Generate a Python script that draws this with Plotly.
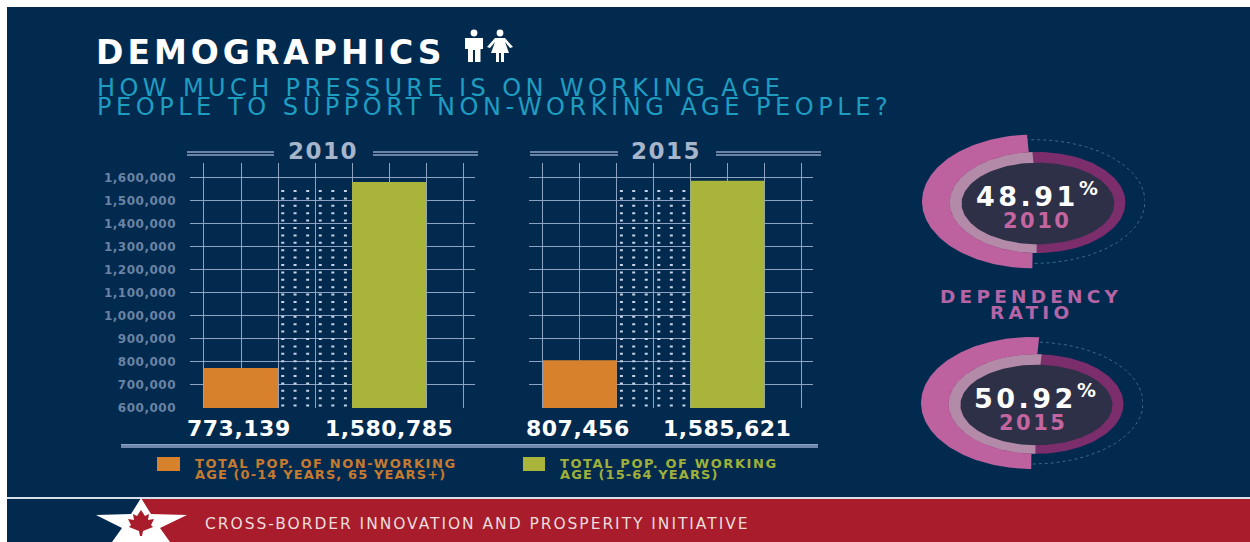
import numpy as np
import plotly.graph_objects as go

W, H = 1250, 542

# Population figures per census year
years = ["2010", "2015"]
age_groups = ["Non-working age", "Working age"]
non_working_pop = [773139, 807456]
working_pop = [1580785, 1585621]
y_ticks = [600000, 700000, 800000, 900000, 1000000, 1100000,
           1200000, 1300000, 1400000, 1500000, 1600000]
dependency_ratio = [48.91, 50.92]

# Colours
NAVY = "#022a4f"
GRID = "#8ea2c2"
TICK = "#6b83a3"
HEAD = "#a7b5cb"
ORANGE = "#d8812c"
GREEN = "#a9b53a"
PINK = "#bd619f"
PINK_LIGHT = "#b48aa9"
PLUM = "#7b2d6c"
DISC = "#2e3048"
CYAN = "#1f9dc1"
RED = "#a81c2b"
SANS = "DejaVu Sans"


def fx(px):
    return px / W


def fy(px):
    return 1 - px / H


def spaced(text, gap):
    """Wrap text in a span that opens up its tracking."""
    return f'<span style="letter-spacing:{gap}px">{text}</span>'


def path(points):
    """Closed SVG path in page fractions from pixel-space vertices."""
    cmds = [f"{'M' if i == 0 else 'L'}{fx(x):.5f},{fy(y):.5f}" for i, (x, y) in enumerate(points)]
    return " ".join(cmds) + " Z"


def rect(x0, y0, x1, y1, color):
    return dict(type="rect", xref="paper", yref="paper", x0=fx(x0), x1=fx(x1),
                y0=fy(y1), y1=fy(y0), fillcolor=color, line_width=0, layer="below")


def rule(x0, x1, y, color=GRID, width=1.4):
    return dict(type="line", xref="paper", yref="paper", x0=fx(x0), x1=fx(x1),
                y0=fy(y), y1=fy(y), line=dict(color=color, width=width))


def blob(points, color):
    return dict(type="path", xref="paper", yref="paper", path=path(points),
                fillcolor=color, line_width=0, layer="above")


def disc(cx, cy, rx, ry, color):
    return dict(type="circle", xref="paper", yref="paper", x0=fx(cx - rx), x1=fx(cx + rx),
                y0=fy(cy + ry), y1=fy(cy - ry), fillcolor=color, line_width=0, layer="above")


def label(x, y, text, size, color, gap=0, bold=True, anchor="center"):
    return dict(xref="paper", yref="paper", x=fx(x), y=fy(y), text=spaced(text, gap), showarrow=False,
                xanchor=anchor, yanchor="middle", align="left",
                font=dict(family=SANS, size=size, color=color, weight=700 if bold else 400))


def arc(share, start, rx=1.0, ry=1.0, cx=0.0, cy=0.0):
    """Arc running clockwise on screen from the bottom of an ellipse."""
    theta = np.radians(np.linspace(-90 + start, -90 + start - 360 * share, 160))
    return cx + rx * np.cos(theta), cy + ry * np.sin(theta)


def sector_trace(share, start, color, axes, rx=1.0, ry=1.0, cx=0.0, cy=0.0, closed=True):
    x, y = arc(share, start, rx, ry, cx, cy)
    if closed:
        x, y = np.r_[cx, x, cx], np.r_[cy, y, cy]
    return go.Scatter(x=x, y=y, mode="lines", fill="toself", fillcolor=color,
                      line=dict(width=0), hoverinfo="skip", showlegend=False,
                      xaxis=axes[0], yaxis=axes[1])


fig = go.Figure()
shapes = [rect(7, 7, W, H, NAVY), rect(141, 499, W, H, RED), rect(7, 497, W, 499, "#d7dfe8")]
annotations = []

# Bar panels: slot 0 and slot 2 hold bars, slot 1 is the stippled gap
panels = [(190, 475, "x", "y"), (529, 813, "x2", "y2")]
y_top = 1662900
for i, (left, right, xa, ya) in enumerate(panels):
    fig.add_trace(go.Bar(x=[0, 2], y=[non_working_pop[i], working_pop[i]], width=1,
                         marker=dict(color=[ORANGE, GREEN], line_width=0),
                         customdata=age_groups, hoverinfo="skip", showlegend=False,
                         xaxis=xa, yaxis=ya))
    axis_x = dict(domain=[fx(left), fx(right)], range=[-0.689, 3.16], tick0=-0.5, dtick=0.5,
                  showgrid=True, gridcolor=GRID, gridwidth=1.3, zeroline=False, automargin=False,
                  showticklabels=False, ticks="", fixedrange=True)
    axis_y = dict(domain=[fy(408), fy(163)], range=[600000, y_top], tickmode="array",
                  tickvals=y_ticks, ticktext=[spaced(f"{t:,}", 0.5) for t in y_ticks],
                  showgrid=True, gridcolor=GRID, gridwidth=1.3, zeroline=False, ticks="", automargin=False,
                  showticklabels=i == 0, ticklabelstandoff=13,
                  tickfont=dict(family=SANS, size=12, color=TICK, weight=700), fixedrange=True)
    suffix = "" if i == 0 else "2"
    fig.update_layout({f"xaxis{suffix}": axis_x, f"yaxis{suffix}": axis_y})

    # Stipple columns filling the gap between the bars
    for col in [0.5635, 0.73, 0.90, 1.07, 1.24, 1.41]:
        shapes.append(dict(type="line", xref=xa, yref=ya, x0=col, x1=col, y0=606000, y1=1570000,
                           line=dict(color="#c6d3e6", width=3, dash="2px,5.4px"), layer="above"))

    # Values printed under the bars
    for slot, value in [(0, non_working_pop[i]), (2, working_pop[i])]:
        annotations.append(dict(xref=xa, yref=ya, x=slot - 0.03 if slot == 0 else slot, y=600000,
                                yanchor="top", yshift=-6, text=spaced(f"{value:,}", 0.5), showarrow=False,
                                font=dict(family=SANS, size=22, color="white", weight=700)))

# Panel headers with double rules either side of the year
for year, cx, a0, a1, b0, b1 in [(years[0], 323, 187, 274, 373, 478), (years[1], 666, 530, 618, 716, 821)]:
    annotations.append(label(cx, 151, year, 23, HEAD, gap=1.5))
    for x0, x1 in [(a0, a1), (b0, b1)]:
        shapes += [rule(x0, x1, 152), rule(x0, x1, 155)]

# Rule above the legend
shapes += [rule(121, 818, 446, "#6f86ad", 4), rule(121, 818, 444.5, "#8ea2c2", 1)]

# Legend
shapes += [rect(157, 457, 180, 471, ORANGE), rect(523, 457, 545, 471, GREEN)]
annotations += [
    label(193, 463, "TOTAL POP. OF NON-WORKING", 13, "#c67a2f", gap=1.6, anchor="left"),
    label(193, 474, "AGE (0-14 YEARS, 65 YEARS+)", 13, "#c67a2f", gap=1.1, anchor="left"),
    label(558, 463, "TOTAL POP. OF WORKING", 13, "#9fb03a", gap=1.6, anchor="left"),
    label(558, 474, "AGE (15-64 YEARS)", 13, "#9fb03a", gap=1.1, anchor="left"),
]

# Ratio dials: each axis pair maps a unit circle onto a wide ellipse
dials = [
    dict(axes=("x3", "y3"), suffix="3", box=(922, 1145, 134.5, 268.5), start=-0.6),
    dict(axes=("x4", "y4"), suffix="4", box=(921, 1143, 337, 469), start=-0.4),
]
for dial, ratio in zip(dials, dependency_ratio):
    x0, x1, y0, y1 = dial["box"]
    axes, start, share = dial["axes"], dial["start"], ratio / 100
    hidden = dict(range=[-1, 1], visible=False, showticklabels=False, fixedrange=True, automargin=False)
    fig.update_layout({f"xaxis{dial['suffix']}": dict(domain=[fx(x0), fx(x1)], **hidden),
                       f"yaxis{dial['suffix']}": dict(domain=[fy(y1), fy(y0)], **hidden)})
    # Faint dotted guide around the unfilled side
    gx, gy = arc(1 - share, start, ry=0.925)
    fig.add_trace(go.Scatter(x=-gx, y=gy, mode="lines", line=dict(color="#3b6a88", width=1, dash="dot"),
                             hoverinfo="skip", showlegend=False, xaxis=axes[0], yaxis=axes[1]))
    fig.add_trace(sector_trace(share, start, PINK, axes))
    ring = dict(rx=0.788, ry=0.754, cx=0.036, cy=-0.015)
    fig.add_trace(sector_trace(1, 0, PLUM, axes, closed=False, **ring))
    fig.add_trace(sector_trace(share, start, PINK_LIGHT, axes, **ring))
    fig.add_trace(sector_trace(1, 0, DISC, axes, closed=False, rx=0.685, ry=0.61, cx=0.04, cy=-0.03))
    # Small pins at both ends of the filled arc
    ex, ey = arc(share, start, ry=1.09)
    fig.add_trace(go.Scatter(x=[ex[0], ex[-1]], y=[ey[0], ey[-1]], mode="markers", cliponaxis=False,
                             marker=dict(color="#86a5b5", size=5), hoverinfo="skip", showlegend=False,
                             xaxis=axes[0], yaxis=axes[1]))

annotations += [
    label(1038, 194, f"{dependency_ratio[0]}<sup>%</sup>", 27, "white", gap=3.5),
    label(1037, 221, years[0], 21, "#c4659f", gap=2.5),
    label(1036, 396, f"{dependency_ratio[1]}<sup>%</sup>", 27, "white", gap=3.5),
    label(1033, 423, years[1], 21, "#c4659f", gap=2.5),
    label(1031, 296, "DEPENDENCY", 18.5, "#b565a5", gap=4.2),
    label(1031, 312, "RATIO", 18.5, "#b565a5", gap=4.2),
]

# Heading block
annotations += [
    label(94, 52, "DEMOGRAPHICS", 33, "white", gap=4, anchor="left"),
    label(95, 88, "HOW MUCH PRESSURE IS ON WORKING AGE", 24, CYAN, gap=4.4, bold=False, anchor="left"),
    label(95, 107, "PEOPLE TO SUPPORT NON-WORKING AGE PEOPLE?", 24, CYAN, gap=4.55, bold=False, anchor="left"),
    label(203, 524, "CROSS-BORDER INNOVATION AND PROSPERITY INITIATIVE", 15.5, "#ecdcdc", gap=1.95, bold=False, anchor="left"),
]

# Man and woman pictograms
shapes += [
    disc(474, 33, 3.4, 3.4, "white"),
    blob([(465, 38), (483, 38), (483, 49), (480.5, 49), (480.5, 62), (475, 62), (475, 50),
          (473, 50), (473, 62), (468, 62), (468, 49), (465, 49)], "white"),
    disc(500, 33, 3.4, 3.4, "white"),
    blob([(495, 38), (505, 38), (513, 47), (510, 48), (505, 42), (509, 53), (504, 53), (504, 62),
          (501, 62), (501, 53), (499, 53), (499, 62), (496, 62), (496, 53), (491, 53), (495, 42),
          (490, 48), (487, 47)], "white"),
]

# Star emblem with a maple leaf
shapes += [
    blob([(141, 498), (151, 514), (187, 515), (160, 528), (170, 542), (112, 542), (122, 528),
          (96, 515), (131, 514)], "white"),
    blob([(141, 510), (145, 516), (149, 514), (148, 520), (154, 519), (151, 525), (153, 527),
          (143, 531), (142, 536), (140, 536), (139, 531), (129, 527), (131, 525), (128, 519),
          (134, 520), (133, 514), (137, 516)], RED),
]

fig.update_layout(width=W, height=H, autosize=False, margin=dict(l=0, r=0, t=0, b=0, pad=0),
                  paper_bgcolor="white", plot_bgcolor="rgba(0,0,0,0)", showlegend=False,
                  barmode="overlay", shapes=shapes, annotations=annotations)

fig.write_html("out.html", config=dict(displayModeBar=False))
